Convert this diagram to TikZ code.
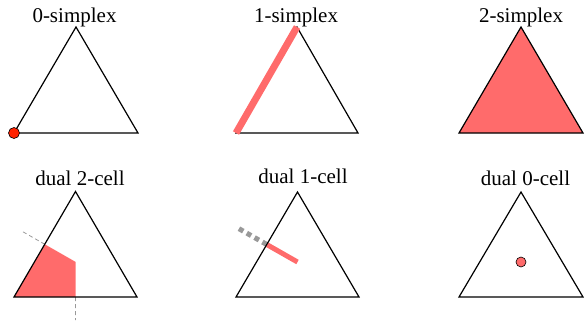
\documentclass[tikz,border=0pt]{standalone}
\usepackage{fontspec}
\setmainfont{Liberation Serif}
\definecolor{cellsalmon}{RGB}{255,107,107}
\definecolor{cellred}{RGB}{255,34,0}
\definecolor{dualgray}{RGB}{153,153,153}
\usetikzlibrary{calc}
\begin{document}
\begin{tikzpicture}[x=1pt,y=-1pt,
    tri/.style={line width=1.2pt,black,line join=miter},
    title/.style={anchor=base,inner sep=0pt,font=\fontsize{21}{24}\selectfont},
    dualdash/.style={dualgray,line width=0.8pt,dash pattern=on 4pt off 3pt}]
  \useasboundingbox (0,0) rectangle (585,322);
  % Triangle vertices, top row
  \coordinate (aL) at (14,133);  \coordinate (aT) at (76,27);    \coordinate (aR) at (138,133);
  \coordinate (bL) at (236,133); \coordinate (bT) at (297,27);   \coordinate (bR) at (358,133);
  \coordinate (cL) at (459,133); \coordinate (cT) at (521,27);   \coordinate (cR) at (583,133);
  % Triangle vertices, bottom row
  \coordinate (dL) at (14,297);  \coordinate (dT) at (75.5,191.5); \coordinate (dR) at (137,297);
  \coordinate (eL) at (236,297); \coordinate (eT) at (297.5,192);  \coordinate (eR) at (359,297);
  \coordinate (fL) at (459,297); \coordinate (fT) at (521,192);    \coordinate (fR) at (583,297);
  % Midpoints and centroids
  \coordinate (dML) at ($(dL)!0.5!(dT)$);
  \coordinate (dMB) at ($(dL)!0.5!(dR)$);
  \coordinate (dC)  at (barycentric cs:dL=1,dT=1,dR=1);
  \coordinate (eML) at ($(eL)!0.5!(eT)$);
  \coordinate (eC)  at (barycentric cs:eL=1,eT=1,eR=1);
  \coordinate (fC)  at (barycentric cs:fL=1,fT=1,fR=1);
  % Titles
  \node[title] (lab0s) at (74.5,22.5) {0-simplex};
  \node[title] (lab1s) at (296,22) {1-simplex};
  \node[title] (lab2s) at (521,22) {2-simplex};
  \node[title] (labd2) at (80,185) {dual 2-cell};
  \node[title] (labd1) at (303,183) {dual 1-cell};
  \node[title] (labd0) at (525.5,185) {dual 0-cell};
  % 0-simplex
  \draw[tri] (aL) -- (aT) -- (aR) -- cycle;
  \filldraw[fill=cellred,draw=black,line width=0.6pt] (aL) circle (5.5);
  % 1-simplex
  \draw[tri] (bL) -- (bT) -- (bR) -- cycle;
  \draw[cellsalmon,line width=7pt] (bL) -- (bT);
  % 2-simplex
  \filldraw[tri,fill=cellsalmon] (cL) -- (cT) -- (cR) -- cycle;
  % dual 2-cell
  \fill[cellsalmon] (dL) -- (dML) -- (dC) -- (dMB) -- cycle;
  \draw[dualdash] (dML) -- ($(dML)!-26pt!(dC)$);
  \draw[dualdash] (dMB) -- ($(dMB)!-23pt!(dC)$);
  \draw[tri] (dL) -- (dT) -- (dR) -- cycle;
  % dual 1-cell
  \draw[dualgray,line width=5pt,dash pattern=on 5pt off 4pt] (eML) -- ($(eML)!-33pt!(eC)$);
  \draw[cellsalmon,line width=5pt] (eML) -- (eC);
  \draw[tri] (eL) -- (eT) -- (eR) -- cycle;
  % dual 0-cell
  \draw[tri] (fL) -- (fT) -- (fR) -- cycle;
  \filldraw[fill=cellsalmon,draw=black,line width=0.6pt] (fC) circle (5);
\end{tikzpicture}
\end{document}
